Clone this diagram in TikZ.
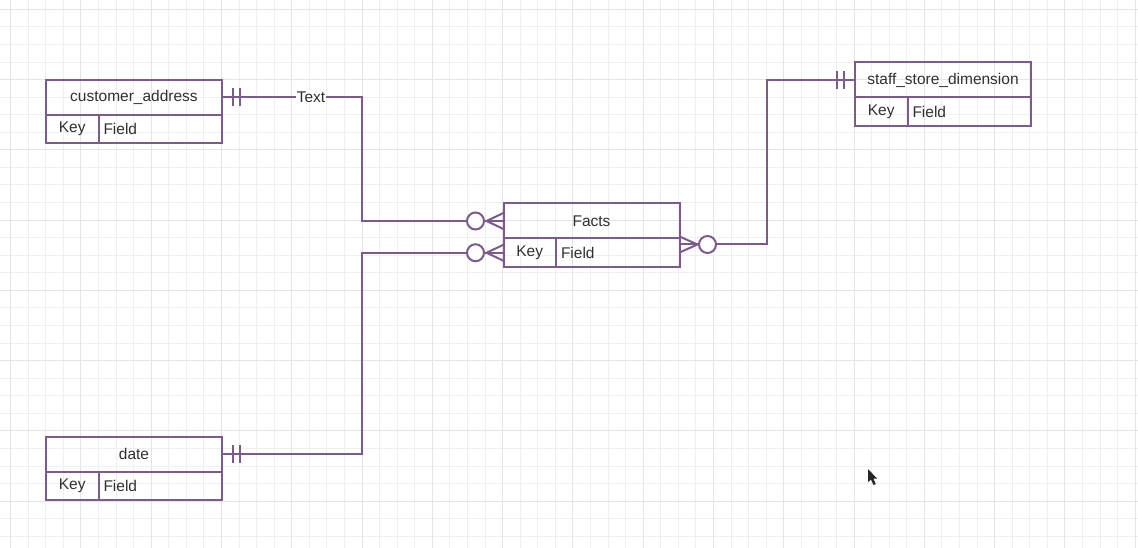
\documentclass[tikz,border=0pt]{standalone}
\usepackage{fontspec}
\setmainfont{Liberation Sans}
\definecolor{erline}{HTML}{7D5A8C}
\definecolor{txt}{HTML}{303030}
\definecolor{gridminor}{HTML}{EFEFF1}
\definecolor{gridmajor}{HTML}{E4E4E8}
\begin{document}
\begin{tikzpicture}[x=1pt,y=-1pt,
  every node/.style={font=\fontsize{15.5}{18}\selectfont, text=txt},
  titlecell/.style={draw=erline, line width=2pt, anchor=north west, inner sep=0pt, outer sep=0pt,
    minimum width=176pt, minimum height=35pt},
  keycell/.style={draw=erline, line width=2pt, anchor=north west, inner sep=0pt, outer sep=0pt,
    minimum width=52.5pt, minimum height=28.5pt},
  fieldcell/.style={draw=erline, line width=2pt, anchor=north west, inner xsep=5pt, inner ysep=0pt,
    outer sep=0pt, text width=113.5pt, align=left, minimum height=28.5pt},
  rel/.style={draw=erline, line width=2pt},
  ermark/.style={draw=erline, line width=2pt},
  ring/.style={draw=erline, line width=2pt, fill=white},
  lbl/.style={fill=white, inner sep=1pt}
]
\useasboundingbox (0,0) rectangle (1138,548);
\fill[white] (0,0) rectangle (1138,548);
% grid
\foreach \i in {0,...,64}{
  \pgfmathsetmacro\xx{10.7+17.57*\i}
  \draw[gridminor, line width=1pt] (\xx,0) -- (\xx,548);
}
\foreach \i in {0,...,31}{
  \pgfmathsetmacro\yy{9.3+17.57*\i}
  \draw[gridminor, line width=1pt] (0,\yy) -- (1138,\yy);
}
\foreach \i in {0,...,16}{
  \pgfmathsetmacro\xx{10.7+70.28*\i}
  \draw[gridmajor, line width=1pt] (\xx,0) -- (\xx,548);
}
\foreach \i in {0,...,7}{
  \pgfmathsetmacro\yy{9.3+70.28*\i}
  \draw[gridmajor, line width=1pt] (0,\yy) -- (1138,\yy);
}

% tables
\node[titlecell] (ca) at (46,80) {customer\_address};
\node[keycell] (cak) at (ca.south west) {Key};
\node[fieldcell] (caf) at (cak.north east) {Field};

\node[titlecell] (dt) at (46,436.5) {date};
\node[keycell] (dtk) at (dt.south west) {Key};
\node[fieldcell] (dtf) at (dtk.north east) {Field};

\node[titlecell] (fa) at (503.5,203.5) {Facts};
\node[keycell] (fk) at (fa.south west) {Key};
\node[fieldcell] (ff) at (fk.north east) {Field};

\node[titlecell] (st) at (855,62.5) {staff\_store\_dimension};
\node[keycell] (stk) at (st.south west) {Key};
\node[fieldcell] (stf) at (stk.north east) {Field};

% bend coordinates
\coordinate (b1) at (362,0);
\coordinate (b2) at (767,0);
\coordinate (fr) at ([yshift=-6pt]fa.south east);

% connectors
\draw[rel] (ca.east) -- node[lbl,pos=0.636]{Text} (ca.east -| b1) |- (fa.west);
\draw[rel] (dt.east) -- (dt.east -| b1) |- (fk.west);
\draw[rel] (fr) -- (fr -| b2) |- (st.west);

% one-and-only-one bars
\foreach \n in {ca,dt}{
  \draw[ermark] ([xshift=11pt,yshift=9pt]\n.east) -- ([xshift=11pt,yshift=-9pt]\n.east);
  \draw[ermark] ([xshift=18pt,yshift=9pt]\n.east) -- ([xshift=18pt,yshift=-9pt]\n.east);
}
\draw[ermark] ([xshift=-11pt,yshift=9pt]st.west) -- ([xshift=-11pt,yshift=-9pt]st.west);
\draw[ermark] ([xshift=-18pt,yshift=9pt]st.west) -- ([xshift=-18pt,yshift=-9pt]st.west);

% zero-or-many crow's feet
\foreach \n in {fa.west,fk.west}{
  \draw[ermark] ([yshift=8pt]\n) -- ([xshift=-17pt]\n) -- ([yshift=-8pt]\n);
  \draw[ring] ([xshift=-28pt]\n) circle (8.5pt);
}
\draw[ermark] ([yshift=8pt]fr) -- ([xshift=18pt]fr) -- ([yshift=-8pt]fr);
\draw[ring] ([xshift=28pt]fr) circle (8.5pt);

% mouse cursor
\fill[black!85] (868,469) -- (868,482) -- (871,479.5) -- (873.5,485) -- (875.8,484) -- (873.3,478.5) -- (877,478.5) -- cycle;
\end{tikzpicture}
\end{document}
